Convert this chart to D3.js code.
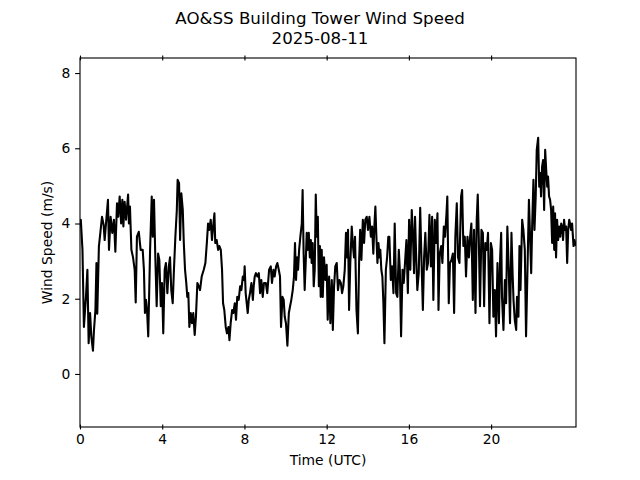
<!DOCTYPE html>
<html>
<head>
<meta charset="utf-8">
<script src="https://cdn.jsdelivr.net/npm/d3@7"></script>
<style>
  html, body { margin: 0; padding: 0; background: #ffffff; }
  svg { display: block; }
  text { font-family: "DejaVu Sans", sans-serif; fill: #000; }
</style>
</head>
<body>
<svg id="chart" width="640" height="480"></svg>
<script>
// ---- data (hours UTC, wind speed m/s) ----
const titleLines = ["AO&SS Building Tower Wind Speed", "2025-08-11"];
const xLabel = "Time (UTC)";
const yLabel = "Wind Speed (m/s)";
const xTickValues = [0, 4, 8, 12, 16, 20];
const yTickValues = [0, 2, 4, 6, 8];
const xDomain = [0, 24.13];
const yDomain = [-1.41, 8.40];

const hours = [
  0.0, 0.04, 0.12, 0.19, 0.29, 0.36, 0.42, 0.49, 0.55, 0.63, 0.68, 0.75, 0.8, 0.84, 0.92, 0.99,
  1.07, 1.15, 1.2, 1.28, 1.36, 1.41, 1.49, 1.57, 1.65, 1.72, 1.8, 1.86, 1.93, 2.0, 2.06, 2.11,
  2.17, 2.24, 2.34, 2.38, 2.43, 2.5, 2.58, 2.66, 2.71, 2.77, 2.86, 2.95,
  3.05, 3.11, 3.16, 3.21, 3.26, 3.32, 3.41, 3.49, 3.54, 3.6, 3.66, 3.73, 3.8, 3.86, 3.93, 3.99,
  4.05, 4.12, 4.18, 4.25, 4.32, 4.38, 4.44, 4.51, 4.57, 4.64, 4.71, 4.75, 4.82, 4.87, 4.93, 5.0,
  5.05, 5.11, 5.17, 5.22, 5.27, 5.32, 5.39, 5.45, 5.51, 5.58, 5.64, 5.71, 5.78, 5.84, 5.92,
  6.02, 6.1, 6.17, 6.23, 6.29, 6.36, 6.42, 6.49, 6.54, 6.58, 6.65, 6.72, 6.78, 6.85, 6.91, 6.96,
  7.02, 7.09, 7.15, 7.22, 7.27, 7.33, 7.4, 7.46, 7.53, 7.59, 7.65, 7.72, 7.79, 7.85, 7.92, 7.98,
  8.01, 8.06, 8.11, 8.16, 8.21, 8.27, 8.34, 8.41, 8.45, 8.5, 8.56, 8.63, 8.7, 8.76, 8.82, 8.89,
  8.95, 9.04, 9.11, 9.2, 9.28, 9.34, 9.41, 9.47, 9.54, 9.6, 9.67, 9.73, 9.78, 9.85, 9.91, 9.96,
  10.02, 10.09, 10.16, 10.22, 10.28, 10.35, 10.41, 10.46, 10.51, 10.56, 10.61, 10.66, 10.72, 10.79, 10.83, 10.88,
  10.93, 10.98, 11.03, 11.08, 11.13, 11.18, 11.23, 11.27, 11.32, 11.37, 11.42, 11.47, 11.52, 11.57, 11.62, 11.67,
  11.71, 11.76, 11.81, 11.87, 11.94, 12.0,
  12.05, 12.12, 12.18, 12.25, 12.3, 12.36, 12.42, 12.49, 12.55, 12.62, 12.69, 12.75, 12.81, 12.88, 12.94, 12.99,
  13.04, 13.09, 13.15, 13.22, 13.28, 13.33, 13.38, 13.45, 13.52, 13.58, 13.63, 13.69, 13.76, 13.82, 13.88, 13.95,
  14.01, 14.08, 14.15, 14.21, 14.27, 14.32, 14.37, 14.42, 14.47, 14.52, 14.57, 14.61, 14.66, 14.71, 14.76, 14.81,
  14.88, 14.94, 15.0,
  15.05, 15.12, 15.18, 15.25, 15.31, 15.38, 15.44, 15.51, 15.56, 15.62, 15.69, 15.75, 15.82, 15.88, 15.95, 16.01,
  16.07, 16.14, 16.2, 16.25, 16.3, 16.35, 16.41, 16.48, 16.55, 16.61, 16.68, 16.74, 16.8, 16.87, 16.93, 17.0,
  17.07, 17.13, 17.19, 17.26, 17.32, 17.39, 17.44, 17.5, 17.57, 17.63, 17.7, 17.76, 17.83, 17.87, 17.94, 18.0,
  18.07, 18.14, 18.2, 18.26, 18.33, 18.39, 18.46, 18.54, 18.59, 18.65, 18.72, 18.78, 18.85, 18.92, 18.98, 19.04,
  19.11, 19.17, 19.24, 19.3, 19.35, 19.4, 19.46, 19.53, 19.6, 19.66, 19.72, 19.79, 19.85, 19.92, 19.99, 20.05,
  20.11, 20.18, 20.24, 20.31, 20.38, 20.44, 20.49, 20.53, 20.6, 20.67, 20.73, 20.79, 20.86, 20.92, 20.99,
  21.05, 21.09, 21.15, 21.22, 21.26, 21.33, 21.38, 21.43, 21.51, 21.57, 21.64, 21.7, 21.77, 21.84, 21.9, 21.95,
  22.0, 22.06, 22.11, 22.17, 22.22, 22.29, 22.34, 22.39, 22.43, 22.48, 22.53, 22.58, 22.63, 22.68, 22.73, 22.77,
  22.82, 22.87, 22.92, 22.97, 23.02, 23.07, 23.11, 23.16, 23.21, 23.26, 23.31, 23.36, 23.41, 23.45, 23.5, 23.55,
  23.6, 23.65, 23.7, 23.75, 23.8, 23.84, 23.89, 23.94, 24.01, 24.05, 24.13
];

const speeds = [
  3.9, 4.1, 3.3, 1.25, 2.05, 2.77, 0.82, 1.62, 1.0, 0.62, 1.17, 1.7, 2.95, 1.6, 3.4, 3.75,
  4.18, 3.96, 3.56, 4.1, 4.63, 3.3, 4.18, 3.75, 4.1, 3.25, 4.54, 4.18, 4.72, 4.0, 4.63, 3.92,
  4.58, 4.1, 4.77, 4.0, 4.45, 3.3, 3.1, 2.77, 1.9, 3.65, 3.78, 3.3,
  3.3, 2.77, 1.62, 1.97, 1.7, 1.0, 3.3, 4.72, 3.65, 4.63, 3.2, 1.8, 3.2, 3.03, 1.8, 2.42,
  1.08, 2.77, 2.95, 2.15, 2.86, 3.1, 2.23, 1.88, 2.77, 3.65, 4.36, 5.16, 5.07, 3.56, 4.8, 4.36,
  3.48, 2.77, 2.42, 2.05, 2.15, 1.25, 1.62, 1.35, 1.62, 1.04, 1.52, 2.42, 2.33, 2.23, 2.59,
  2.77, 2.95, 3.48, 4.0, 3.83, 4.1, 3.56, 4.0, 4.27, 3.48, 3.56, 3.3, 3.4, 3.3, 2.77, 1.88,
  1.7, 1.25, 1.08, 1.25, 0.9, 1.35, 1.7, 1.62, 1.88, 1.44, 2.05, 1.97, 2.33, 2.23, 2.59, 2.5,
  2.86, 2.15, 1.88, 1.62, 1.97, 2.15, 2.42, 1.97, 2.33, 2.59, 2.68, 2.59, 2.68, 2.15, 2.5, 2.05,
  2.42, 2.42, 2.15, 2.77, 2.86, 2.42, 2.77, 2.59, 2.86, 2.95, 2.77, 2.59, 1.25, 2.05, 1.97, 1.52,
  1.35, 0.75, 1.62, 1.8, 1.97, 2.23, 2.59, 3.48, 2.5, 3.1, 2.77, 3.3, 3.65, 4.0, 4.89, 3.2,
  2.23, 2.95, 3.75, 3.3, 3.75, 3.1, 3.56, 2.95, 3.48, 2.33, 2.77, 4.77, 3.65, 4.18, 2.33, 3.4,
  2.05, 3.3, 2.05, 3.1, 2.5, 2.9,
  1.44, 2.59, 1.35, 2.5, 1.17, 2.33, 2.86, 2.95, 2.23, 2.5, 2.42, 2.15, 2.33, 2.77, 3.75, 3.1,
  3.83, 1.7, 2.95, 3.92, 3.4, 3.1, 3.65, 1.7, 1.08, 3.03, 3.83, 3.03, 4.1, 3.48, 4.1, 4.18,
  3.83, 4.18, 3.65, 3.92, 3.2, 3.92, 4.45, 3.65, 2.95, 3.48, 3.1, 3.3, 2.77, 2.59, 1.88, 0.82,
  2.77, 3.1, 3.65,
  3.65, 2.5, 2.86, 2.15, 4.0, 2.15, 2.05, 3.3, 2.77, 1.0, 2.77, 2.42, 3.03, 3.56, 2.15, 4.1,
  2.77, 4.36, 3.65, 2.68, 4.18, 3.2, 2.23, 2.68, 4.42, 3.1, 1.7, 3.1, 3.75, 2.77, 2.95, 4.23,
  2.86, 4.18, 1.97, 4.1, 3.48, 4.27, 1.7, 3.2, 3.4, 2.95, 3.92, 3.65, 4.27, 4.72, 1.88, 2.95,
  3.03, 3.2, 1.62, 3.65, 4.54, 3.1, 2.95, 4.72, 4.89, 3.4, 3.65, 2.59, 3.65, 3.1, 3.65, 4.0,
  1.97, 3.83, 1.62, 4.1, 4.77, 3.65, 1.8, 3.83, 3.75, 1.8, 3.48, 3.3, 3.75, 1.35, 3.48, 3.3,
  1.52, 2.23, 1.0, 2.95, 1.35, 3.1, 3.75, 2.05, 1.17, 2.5, 1.88, 3.92, 2.77, 1.35, 3.75,
  2.6, 1.97, 1.44, 1.17, 2.05, 1.52, 3.4, 2.23, 4.1, 3.83, 3.3, 1.0, 2.77, 4.63, 3.56, 2.68,
  4.0, 5.16, 3.83, 4.72, 5.96, 6.28, 4.98, 5.34, 4.72, 5.51, 5.69, 4.36, 5.96, 5.43, 4.98, 5.25,
  4.72, 4.63, 4.36, 3.48, 4.45, 3.3, 4.27, 3.1, 4.1, 3.56, 3.92, 3.65, 4.0, 3.92, 3.56, 4.1,
  3.83, 3.92, 2.95, 3.83, 4.1, 4.0, 3.83, 4.0, 3.4, 3.56, 3.4
];

// ---- layout ----
const W = 640, H = 480;
const m = { l: 80, r: 576, t: 58, b: 427 };
const pt = 100 / 72;
const fs = 10 * pt;         // 13.9px
const titleFs = 12 * pt;    // 16.7px

const svg = d3.select("#chart");
svg.append("rect").attr("width", W).attr("height", H).attr("fill", "#fff");

const x = d3.scaleLinear().domain(xDomain).range([m.l, m.r]);
const y = d3.scaleLinear().domain(yDomain).range([m.b, m.t]);

const n = Math.min(hours.length, speeds.length);
const data = d3.range(n).map(i => ({ h: hours[i], v: speeds[i] }));

// clip
svg.append("defs").append("clipPath").attr("id", "clip")
  .append("rect").attr("x", m.l).attr("y", m.t).attr("width", m.r - m.l).attr("height", m.b - m.t);

// line
const line = d3.line().x(d => x(d.h)).y(d => y(d.v));
svg.append("path")
  .datum(data)
  .attr("clip-path", "url(#clip)")
  .attr("d", line)
  .attr("fill", "none")
  .attr("stroke", "#000")
  .attr("stroke-width", 1.5 * pt)
  .attr("stroke-linejoin", "round");

// axes
const tickLen = 3.5 * pt;
const half = tickLen / 2;

const gx = svg.append("g").attr("transform", `translate(0,${m.b})`)
  .call(d3.axisBottom(x).tickValues(xTickValues).tickFormat(d3.format("d"))
    .tickSizeInner(half).tickSizeOuter(0).tickPadding(tickLen));
gx.selectAll(".tick line").attr("y1", -half).attr("stroke-width", 0.8 * pt);
gx.selectAll("text").attr("font-size", fs).attr("font-family", "DejaVu Sans");
gx.select(".domain").remove();

const gxt = svg.append("g").attr("transform", `translate(0,${m.t})`)
  .call(d3.axisTop(x).tickValues(xTickValues).tickFormat("")
    .tickSizeInner(half).tickSizeOuter(0));
gxt.selectAll(".tick line").attr("y1", half).attr("stroke-width", 0.8 * pt);
gxt.select(".domain").remove();

const gy = svg.append("g").attr("transform", `translate(${m.l},0)`)
  .call(d3.axisLeft(y).tickValues(yTickValues).tickFormat(d3.format("d"))
    .tickSizeInner(tickLen).tickSizeOuter(0).tickPadding(tickLen));
gy.selectAll(".tick line").attr("stroke-width", 0.8 * pt);
gy.selectAll("text").attr("font-size", fs).attr("font-family", "DejaVu Sans");
gy.select(".domain").remove();

// spines
svg.append("rect")
  .attr("x", m.l).attr("y", m.t).attr("width", m.r - m.l).attr("height", m.b - m.t)
  .attr("fill", "none").attr("stroke", "#000").attr("stroke-width", 0.8 * pt);

// labels
svg.append("text").attr("x", (m.l + m.r) / 2).attr("y", 465)
  .attr("text-anchor", "middle").attr("font-size", fs).text(xLabel);
svg.append("text").attr("transform", `translate(52,${(m.t + m.b) / 2}) rotate(-90)`)
  .attr("text-anchor", "middle").attr("font-size", fs).text(yLabel);

// title
titleLines.forEach((t, i) => {
  svg.append("text").attr("x", W / 2).attr("y", 24 + i * 20)
    .attr("text-anchor", "middle").attr("font-size", titleFs).text(t);
});
</script>
</body>
</html>
